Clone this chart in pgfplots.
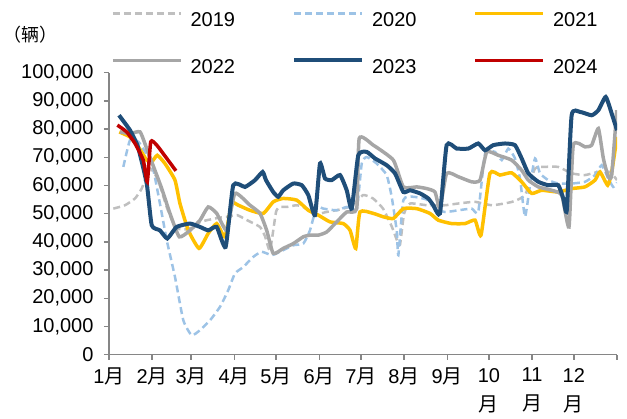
\documentclass[border=0pt]{standalone}
\usepackage{pgfplots}
\pgfplotsset{compat=1.18}
\usepackage{fontspec}
\setmainfont{Liberation Sans}
\newfontfamily\cjk{Noto Sans CJK SC}
\definecolor{cA}{HTML}{BFBFBF}
\definecolor{cB}{HTML}{9DC3E6}
\definecolor{cC}{HTML}{FFC000}
\definecolor{cD}{HTML}{A6A6A6}
\definecolor{cE}{HTML}{1F4E79}
\definecolor{cF}{HTML}{C00000}
\definecolor{axgray}{HTML}{868686}
\begin{document}
\begin{tikzpicture}
\useasboundingbox (-109pt,-64.3pt) rectangle (518pt,354.7pt);
\begin{axis}[
  scale only axis, width=508pt, height=282pt,
  xmin=0, xmax=365, ymin=0, ymax=100000,
  axis x line=bottom, axis y line=left,
  axis line style={-, draw=axgray, line width=1.3pt},
  every tick/.style={draw=axgray, line width=1.3pt},
  tick align=outside, major tick length=5pt,
  xtick pos=bottom, ytick pos=left,
  xtick={0,31,59,90,120,151,181,212,243,273,304,334,365},
  xticklabels={1{\cjk 月},2{\cjk 月},3{\cjk 月},4{\cjk 月},5{\cjk 月},6{\cjk 月},7{\cjk 月},8{\cjk 月},9{\cjk 月},{10\\{\cjk 月}},{11\\{\cjk 月}},{12\\{\cjk 月}},{}},
  xticklabel style={align=center, font=\fontsize{20}{29}\selectfont, yshift=-5pt},
  ytick={0,10000,20000,30000,40000,50000,60000,70000,80000,90000,100000},
  scaled y ticks=false,
  /pgf/number format/assume math mode=true,
  yticklabel style={/pgf/number format/.cd, fixed, precision=0, 1000 sep={,}, /tikz/.cd, font=\fontsize{20}{24}\selectfont, xshift=-7pt},
  legend columns=3,
  legend style={draw=none, fill=none, at={(0.483,1.1035)}, anchor=center,
    font=\fontsize{20}{24}\selectfont, inner sep=0pt, outer sep=0pt,
    nodes={inner sep=0pt}, row sep=30pt,
    /tikz/every odd column/.append style={column sep=8pt},
    /tikz/every even column/.append style={column sep=57pt}},
  legend cell align=left,
  legend image code/.code={\draw[#1] (0pt,7pt) -- (68pt,7pt);},
  every axis plot/.append style={smooth, tension=0.3},
]
\addplot[cA, line width=2.5pt, dash pattern=on 7pt off 4pt] coordinates {
(3.1,51800)(11.5,53000)(18.7,55400)(23.5,58900)(29.5,66000)(35.2,62000)(41.7,52000)(48.1,45000)(56.8,44500)(65.4,47000)(70.4,47700)(78.3,48500)(84.8,48900)(92.0,49500)(99.2,47700)(108.5,45300)(112.1,42000)(115.7,37000)(120.0,50600)(122.9,52400)(127.9,52400)(135.1,53000)(142.3,51800)(148.0,49500)(155.2,50500)(166.0,51500)(175.3,53000)(182.5,56600)(189.7,55400)(196.9,51800)(203.3,45300)(206.9,40600)(209.1,39000)(212.0,50000)(216.3,53600)(228.5,53000)(241.4,53000)(250.8,53600)(263.0,54200)(275.2,53000)(289.6,54200)(298.9,56600)(306.1,66000)(313.3,66600)(322.6,66600)(332.7,64300)(342.0,63700)(351.3,64800)(360.0,64800)(365,61900)};
\addlegendentry{2019}
\addplot[cB, line width=2.5pt, dash pattern=on 7pt off 4pt] coordinates {
(10.3,66600)(15.1,76100)(21.1,75500)(25.9,72000)(30.7,68400)(36.6,53600)(41.5,40600)(47.4,27600)(53.4,12200)(59.4,6900)(65.4,8700)(72.6,12200)(79.8,17000)(85.7,22900)(90.5,28800)(96.5,31100)(103.7,34700)(109.7,36500)(116.9,35300)(122.9,36500)(132.4,38800)(139.6,39400)(144.4,44100)(149.2,52400)(154.0,51800)(163.6,51200)(170.8,52400)(178.0,51800)(181.6,67800)(185.2,70100)(192.3,67800)(199.5,63700)(203.1,56000)(206.7,44100)(207.9,35300)(211.5,54800)(218.6,56000)(228.3,55000)(234.2,51800)(241.4,50600)(251.0,51200)(260.6,51800)(265.3,50600)(270.2,71300)(277.3,71900)(282.2,69000)(286.9,73100)(291.7,69600)(295.3,62500)(298.9,48900)(302.5,60100)(306.1,69600)(309.7,64300)(315.6,61900)(322.8,60700)(332.4,60700)(342.0,61300)(349.2,63700)(354.0,67200)(358.7,62500)(362.3,59500)(365,61000)};
\addlegendentry{2020}
\addplot[cC, line width=3.5pt] coordinates {
(7.4,79000)(15.1,77200)(21.1,73700)(27.1,69000)(30.7,68400)(34.7,70700)(40.2,67800)(47.4,61900)(51.0,53600)(57.0,44100)(64.7,37700)(71.3,43000)(77.4,46500)(83.3,41800)(88.2,53600)(92.9,53000)(101.3,51200)(110.9,50100)(118.0,54200)(125.2,55400)(134.9,54800)(143.2,51200)(150.4,49500)(158.8,47100)(168.3,46500)(173.2,44100)(177.3,37700)(180.3,50600)(189.9,50100)(197.1,48900)(204.3,48300)(211.5,51800)(221.1,51800)(230.6,50100)(236.6,47700)(246.2,46500)(255.8,46500)(263.0,47700)(267.3,42400)(273.7,64300)(280.9,63700)(289.3,64500)(296.5,61300)(303.7,57200)(310.9,58300)(322.8,57700)(332.4,58900)(342.0,59500)(349.2,61900)(352.8,64800)(358.3,60100)(361.2,64800)(365,77200)};
\addlegendentry{2021}
\addplot[cD, line width=3.5pt] coordinates {
(7.9,79000)(15.1,78400)(22.3,79000)(27.1,73100)(30.7,68400)(37.9,58900)(43.8,50100)(50.5,41800)(58.2,44100)(65.4,47700)(71.3,52400)(77.4,50100)(84.6,44100)(90.5,57200)(101.3,53000)(108.5,50100)(113.3,44100)(118.0,35900)(125.2,37700)(132.4,39400)(139.6,41800)(144.4,42400)(150.4,42400)(156.4,43500)(163.6,47100)(170.8,50600)(178.0,51800)(179.8,76700)(189.9,74300)(204.3,69000)(211.5,59500)(221.1,59500)(228.3,58900)(234.2,57700)(237.8,51800)(242.6,64300)(251.0,63100)(260.6,61300)(266.6,61900)(271.4,71900)(279.7,70700)(289.3,69000)(296.5,65400)(301.3,61900)(308.5,59500)(318.1,58300)(325.3,56600)(330.5,45300)(333.6,74300)(342.0,73700)(346.8,74300)(351.6,80200)(355.2,69600)(358.7,63100)(361.2,63700)(364.8,86700)};
\addlegendentry{2022}
\addplot[cE, line width=4pt] coordinates {
(7.2,84900)(15.1,79600)(20.8,73700)(27.1,60700)(30.7,45900)(36.6,44100)(41.9,41200)(48.6,45300)(58.2,46500)(65.4,45300)(71.3,44100)(77.4,45300)(83.8,38200)(89.3,60100)(97.7,59500)(104.9,61900)(110.4,64800)(112.8,61900)(118.0,57700)(121.6,56000)(125.2,58300)(132.4,60700)(138.5,60100)(143.2,56600)(148.0,49500)(151.6,67800)(155.2,62500)(160.0,61900)(166.0,63700)(170.8,58300)(174.4,51800)(179.1,70700)(185.2,71900)(191.1,69600)(199.5,67200)(205.5,64300)(211.5,57700)(216.3,58300)(223.5,57200)(229.4,55400)(233.0,53000)(237.8,50100)(242.6,74300)(249.8,73100)(258.2,73100)(265.3,74900)(270.2,72500)(276.1,74300)(284.5,74900)(291.7,74300)(296.5,69600)(301.3,64300)(308.5,61300)(315.6,60100)(322.8,60100)(326.4,55400)(328.9,51200)(332.4,84900)(338.4,86100)(346.8,84900)(351.6,86700)(356.9,91400)(361.2,85500)(365,79600)};
\addlegendentry{2023}
\addplot[cF, line width=3.5pt] coordinates {
(6.0,81400)(12.7,79000)(18.7,74900)(24.6,69000)(27.5,61300)(30.0,75500)(34.3,74300)(41.5,69600)(48.1,65200)};
\addlegendentry{2024}
\end{axis}
\node[font=\cjk\fontsize{18}{18}\selectfont] at (-78pt,319.7pt) {（辆）};
\end{tikzpicture}
\end{document}
